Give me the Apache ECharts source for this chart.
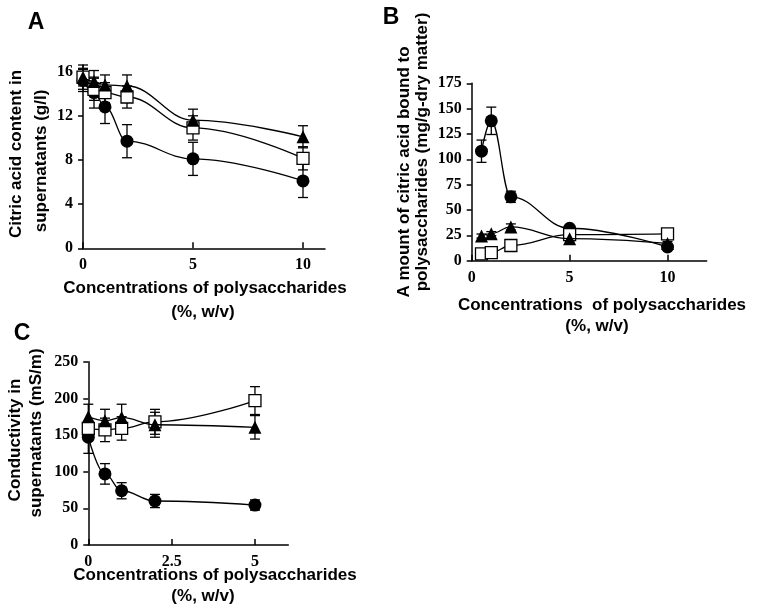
<!DOCTYPE html>
<html>
<head>
<meta charset="utf-8">
<script src="https://cdn.jsdelivr.net/npm/echarts@6/dist/echarts.min.js"></script>
<style>
  html, body { margin: 0; padding: 0; background: #fff; }
  #chart { width: 760px; height: 615px; }
</style>
</head>
<body>
<div id="chart"></div>
<script>
// panel A: citric acid in supernatants (g/l)
const xA = [0, 0.5, 1, 2, 5, 10];
const circleA = [15.2, 14.1, 12.8, 9.7, 8.1, 6.1];
const circleErrA = [1.0, 1.4, 1.5, 1.5, 1.5, 1.5];
const squareA = [15.5, 14.4, 14.1, 13.7, 10.9, 8.15];
const squareErrA = [0.8, 1.0, 0.9, 1.0, 1.1, 1.05];
const triA = [15.5, 15.1, 14.8, 14.7, 11.6, 10.1];
const triErrA = [1.1, 1.0, 0.9, 1.0, 1.0, 1.0];
const yTicksA = [0, 4, 8, 12, 16];
const xTicksA = [0, 5, 10];

// panel B: citric acid bound to polysaccharides (mg/g-dry matter)
const xB = [0.5, 1, 2, 5, 10];
const circleB = [108, 138, 63, 32, 13.5];
const circleErrB = [11, 13.5, 5.5, 2, 3];
const squareB = [6.7, 8, 15, 25.7, 26.5];
const squareErrB = [1, 1, 2, 2, 2];
const triB = [24.3, 26.7, 33.3, 21.7, 17];
const triErrB = [2, 2, 3, 2, 2];
const yTicksB = [0, 25, 50, 75, 100, 125, 150, 175];
const xTicksB = [0, 5, 10];

// panel C: conductivity in supernatants (mS/m)
const xC = [0, 0.5, 1, 2, 5];
const circleC = [147, 97, 74, 60, 54.5];
const circleErrC = [22, 14, 11, 9, 7];
const squareC = [159, 157, 159, 168, 197];
const squareErrC = [10, 16, 16, 17, 19];
const triC = [175, 169.6, 174, 164, 160.5];
const triErrC = [17, 15.5, 18, 17, 16];
const yTicksC = [0, 50, 100, 150, 200, 250];
const xTicksC = [0, 2.5, 5];

const tickFont = { fontFamily: "Liberation Serif", fontWeight: "bold", fontSize: 16, color: "#000" };
const titleFont = "bold 17px 'Liberation Sans'";
const letterFont = "bold 23px 'Liberation Sans'";

const chart = echarts.init(document.getElementById("chart"));

function errorItem(params, api) {
  const x = api.value(0);
  const lo = api.coord([x, api.value(1)]);
  const hi = api.coord([x, api.value(2)]);
  const w = 5;
  const st = { stroke: "#000", lineWidth: 1.3 };
  return {
    type: "group",
    children: [
      { type: "line", shape: { x1: hi[0], y1: hi[1], x2: lo[0], y2: lo[1] }, style: st },
      { type: "line", shape: { x1: hi[0] - w, y1: hi[1], x2: hi[0] + w, y2: hi[1] }, style: st },
      { type: "line", shape: { x1: lo[0] - w, y1: lo[1], x2: lo[0] + w, y2: lo[1] }, style: st },
    ],
  };
}

// error bars first, then the three curves (circle, square, triangle on top)
function panelSeries(idx, xs, sets) {
  const out = [];
  sets.forEach(([vals, errs]) => {
    out.push({
      type: "custom",
      xAxisIndex: idx,
      yAxisIndex: idx,
      renderItem: errorItem,
      clip: false,
      z: 1,
      data: xs.map((x, i) => [x, vals[i] - errs[i], vals[i] + errs[i]]),
    });
  });
  sets.forEach(([vals, errs, symbol, filled], k) => {
    out.push({
      type: "line",
      xAxisIndex: idx,
      yAxisIndex: idx,
      smooth: 0.4,
      smoothMonotone: "x",
      clip: false,
      symbol: symbol,
      symbolSize: symbol === "rect" ? 12 : 13,
      z: 3 + k,
      lineStyle: { color: "#000", width: 1.3 },
      itemStyle: filled
        ? { color: "#000", borderColor: "#000", borderWidth: 0 }
        : { color: "#fff", borderColor: "#000", borderWidth: 1.3 },
      data: xs.map((x, i) => [x, vals[i]]),
    });
  });
  return out;
}

function xAxis(idx, max, ticks) {
  return {
    type: "value",
    gridIndex: idx,
    min: 0,
    max: max,
    splitLine: { show: false },
    axisLine: { lineStyle: { color: "#000", width: 1.5 } },
    axisTick: { inside: true, length: 6, lineStyle: { color: "#000", width: 1.5 }, customValues: ticks },
    axisLabel: Object.assign({ margin: 9, customValues: ticks }, tickFont),
  };
}

function yAxis(idx, max, ticks) {
  return {
    type: "value",
    gridIndex: idx,
    min: 0,
    max: max,
    splitLine: { show: false },
    axisLine: { show: true, lineStyle: { color: "#000", width: 1.5 } },
    axisTick: { show: true, length: 5, lineStyle: { color: "#000", width: 1.5 }, customValues: ticks },
    axisLabel: Object.assign({ margin: 10, customValues: ticks }, tickFont),
  };
}

function label(text, x, y, rot, font) {
  return {
    type: "text",
    x: x,
    y: y,
    rotation: rot,
    style: { text: text, font: font || titleFont, fill: "#000", align: "center", verticalAlign: "middle" },
  };
}

const R = Math.PI / 2;

chart.setOption({
  animation: false,
  grid: [
    { left: 83, top: 65, width: 242, height: 183.3 },
    { left: 471.7, top: 83.3, width: 235, height: 177.4 },
    { left: 88.3, top: 361.7, width: 200, height: 183.3 },
  ],
  xAxis: [xAxis(0, 11, xTicksA), xAxis(1, 12, xTicksB), xAxis(2, 6, xTicksC)],
  yAxis: [yAxis(0, 16.6, yTicksA), yAxis(1, 175, yTicksB), yAxis(2, 250, yTicksC)],
  series: [
    ...panelSeries(0, xA, [
      [circleA, circleErrA, "circle", true],
      [squareA, squareErrA, "rect", false],
      [triA, triErrA, "triangle", true],
    ]),
    ...panelSeries(1, xB, [
      [circleB, circleErrB, "circle", true],
      [squareB, squareErrB, "rect", false],
      [triB, triErrB, "triangle", true],
    ]),
    ...panelSeries(2, xC, [
      [circleC, circleErrC, "circle", true],
      [squareC, squareErrC, "rect", false],
      [triC, triErrC, "triangle", true],
    ]),
  ],
  graphic: [
    label("A", 36, 23, 0, letterFont),
    label("B", 391, 18, 0, letterFont),
    label("C", 22, 334, 0, letterFont),

    label("Citric acid content in", 16.5, 154, R),
    label("supernatants (g/l)", 41, 161, R),
    label("Concentrations of polysaccharides", 205, 288, 0),
    label("(%, w/v)", 203, 312, 0),

    label("A mount of citric acid bound to", 404, 172, R),
    label("polysaccharides (mg/g-dry matter)", 422, 152, R),
    label("Concentrations  of polysaccharides", 602, 305, 0),
    label("(%, w/v)", 597, 326, 0),

    label("Conductivity in", 15, 440, R),
    label("supernatants (mS/m)", 36, 433, R),
    label("Concentrations of polysaccharides", 215, 575, 0),
    label("(%, w/v)", 203, 596, 0),
  ],
});
</script>
</body>
</html>
